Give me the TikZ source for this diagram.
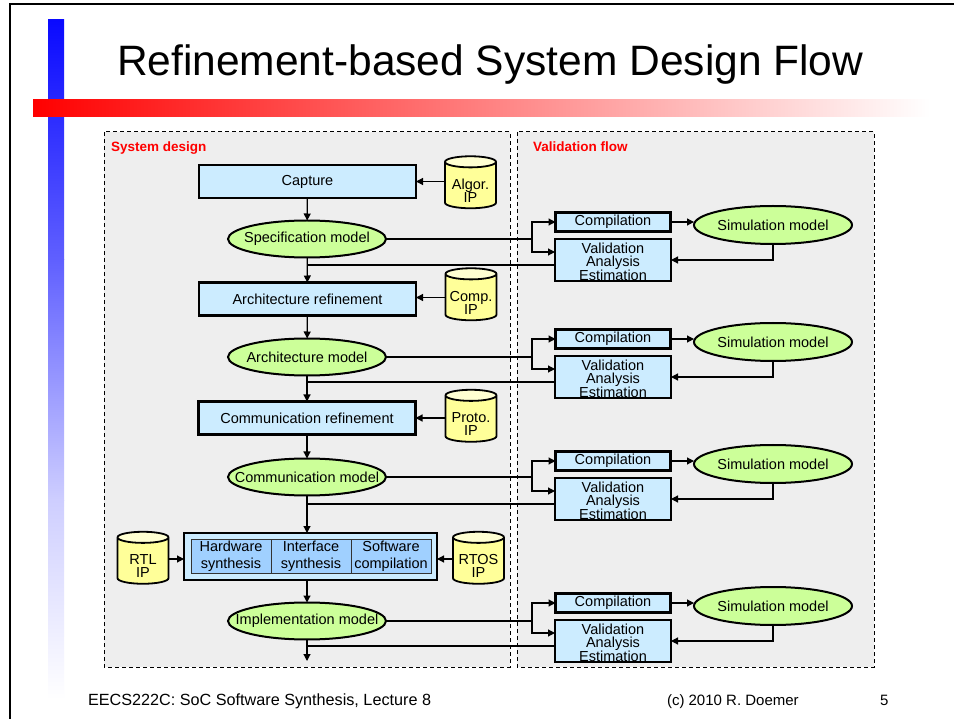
\documentclass[tikz,border=0pt]{standalone}
\usepackage{fontspec}
\setmainfont{Liberation Sans}
\usetikzlibrary{shapes.geometric,arrows.meta,calc}
\definecolor{boxblue}{RGB}{204,236,255}
\definecolor{cellblue}{RGB}{160,208,255}
\definecolor{modelgreen}{RGB}{204,255,153}
\definecolor{ipyellow}{RGB}{255,255,153}
\definecolor{iptop}{RGB}{255,255,210}
\definecolor{panelgrey}{RGB}{238,238,238}
\definecolor{labelred}{RGB}{255,0,0}
\definecolor{barblue}{RGB}{10,10,255}
\begin{document}
\begin{tikzpicture}[x=1pt,y=-1pt,
 every node/.style={font=\fontsize{14.5}{13}\selectfont, inner sep=0pt, outer sep=0pt},
 every label/.style={font=\fontsize{14.5}{13}\selectfont, inner sep=0pt, align=center},
 procbox/.style={draw=black, line width=2.2pt, fill=boxblue, minimum width=217pt, minimum height=33pt},
 model/.style={ellipse, draw=black, line width=2pt, fill=modelgreen, minimum width=158pt, minimum height=37pt, label={center:#1}},
 ip/.style={cylinder, shape border rotate=90, draw=black, line width=1.8pt, cylinder uses custom fill, cylinder body fill=ipyellow, cylinder end fill=iptop, aspect=0.3, minimum width=51pt, minimum height=52pt, align=center, label={[yshift=-5pt]center:#1}},
 compbox/.style={draw=black, line width=2.8pt, fill=boxblue, minimum width=115pt, minimum height=19pt},
 valbox/.style={draw=black, line width=2.2pt, fill=boxblue, minimum width=116pt, minimum height=42pt, label={[yshift=-2pt]center:Validation\\Analysis\\Estimation}},
 cell/.style={draw=black!80, line width=0.8pt, fill=cellblue, minimum width=80pt, minimum height=34pt, align=center, font=\fontsize{14.5}{17}\selectfont},
 conn/.style={draw=black, line width=1.2pt},
 arr/.style={conn, -{Triangle[length=7pt,width=7pt]}},
 panel/.style={draw=black, dash pattern=on 4pt off 3pt, line width=1pt, fill=panelgrey},
 paneltitle/.style={anchor=base west, text=labelred, font=\bfseries\fontsize{13.5}{16}\selectfont},
 foot/.style={anchor=base west, font=\fontsize{15}{16}\selectfont},
]
\newcommand{\ipspace}{\phantom{Algor.}\\\phantom{IP}}
% canvas
\fill[white] (0,0) rectangle (954,719);
\useasboundingbox (0,0) rectangle (954,719);
\draw[line width=2.5pt] (10,719) -- (10,4) -- (954,4);
% decoration bars
\shade[top color=barblue, bottom color=barblue!65!white] (48,20) rectangle (64,260);
\shade[top color=barblue!65!white, bottom color=barblue!20!white] (48,260) rectangle (64,500);
\shade[top color=barblue!20!white, bottom color=white] (48,500) rectangle (64,700);
\shade[left color=red, right color=white] (33,100) rectangle (930,117);
% title
\node[anchor=base west, font=\fontsize{42.5}{50}\selectfont] (title) at (117,76) {Refinement-based System Design Flow};
% panels
\path[panel] (104,132) rectangle (510,667);
\path[panel] (517,132) rectangle (874,667);
\node[paneltitle] (lsys) at (111,152) {System design};
\node[paneltitle] (lval) at (533,152) {Validation flow};
% system design column
\node[procbox] (cap) at (307.5,181.5) {Capture};
\node[ip={Algor.\\IP}] (algor) at (470.5,185.5) {\ipspace};
\node[model={Specification model}] (spec) at (307,239) {};
\node[procbox] (arch) at (307.5,299) {Architecture refinement};
\node[ip={Comp.\\IP}] (compip) at (471,297.5) {\ipspace};
\node[model={Architecture model}] (archm) at (307,357) {};
\node[procbox] (comm) at (307,418) {Communication refinement};
\node[ip={Proto.\\IP}] (proto) at (471,419) {\ipspace};
\node[model={Communication model}] (commm) at (307,477) {};
\node[draw=black, line width=2.4pt, fill=boxblue, minimum width=253pt, minimum height=47pt] (synth) at (310.5,556.5) {};
\node[cell] (hw) at (231,556) {Hardware\\synthesis};
\node[cell] (ifs) at (311,556) {Interface\\synthesis};
\node[cell] (sw) at (391,556) {Software\\compilation};
\node[ip={RTL\\IP}] (rtl) at (143,561) {\ipspace};
\node[ip={RTOS\\IP}] (rtos) at (478.5,561) {\ipspace};
\node[model={Implementation model}] (impl) at (307,621) {};
\coordinate (end) at (307,661);
% vertical flow
\draw[arr] (cap) -- (spec);
\draw[arr] (spec) -- (arch);
\draw[arr] (arch) -- (archm);
\draw[arr] (archm) -- (comm);
\draw[arr] (comm) -- (commm);
\draw[arr] (commm.south) -- (commm.south |- synth.north);
\draw[arr] (synth.south -| impl.north) -- (impl.north);
\draw[arr] (impl) -- (end);
% IP inputs
\draw[arr] (algor.west |- cap.east) -- (cap.east);
\draw[arr] (compip.west) -- (compip.west -| arch.east);
\draw[arr] (proto.west |- comm.east) -- (comm.east);
\draw[arr] (rtl.east |- 0,559) -- (synth.west |- 0,559);
\draw[arr] (rtos.west |- 0,559) -- (synth.east |- 0,559);
% validation rows
\foreach \d/\m [count=\i] in {0/spec, 117/archm, 239/commm, 381/impl}{
  \node[compbox] (C\i) at (613,222+\d) {Compilation};
  \node[valbox] (V\i) at (613,260+\d) {};
  \node[model={Simulation model}, minimum height=38pt] (S\i) at (773,225+\d) {};
  \coordinate (br\i) at (\m.east -| 532,0);
  \draw[conn] (\m.east) -- (br\i);
  \draw[arr] (br\i) |- (C\i.west);
  \draw[arr] (br\i) |- ($(V\i.west)+(0,-8)$);
  \draw[arr] (C\i.east) -- (C\i.east -| S\i.west);
  \draw[arr] (S\i.south) |- (V\i.east);
  \coordinate (fb\i) at ($(V\i.west)+(0,5)$);
  \draw[conn] (fb\i) -- (fb\i -| \m.south);
}
% footer
\node[foot, font=\fontsize{16.2}{18}\selectfont] (f1) at (88,705) {EECS222C: SoC Software Synthesis, Lecture 8};
\node[foot] (f2) at (667,705) {(c) 2010 R. Doemer};
\node[foot] (f3) at (880,705) {5};
\end{tikzpicture}
\end{document}
